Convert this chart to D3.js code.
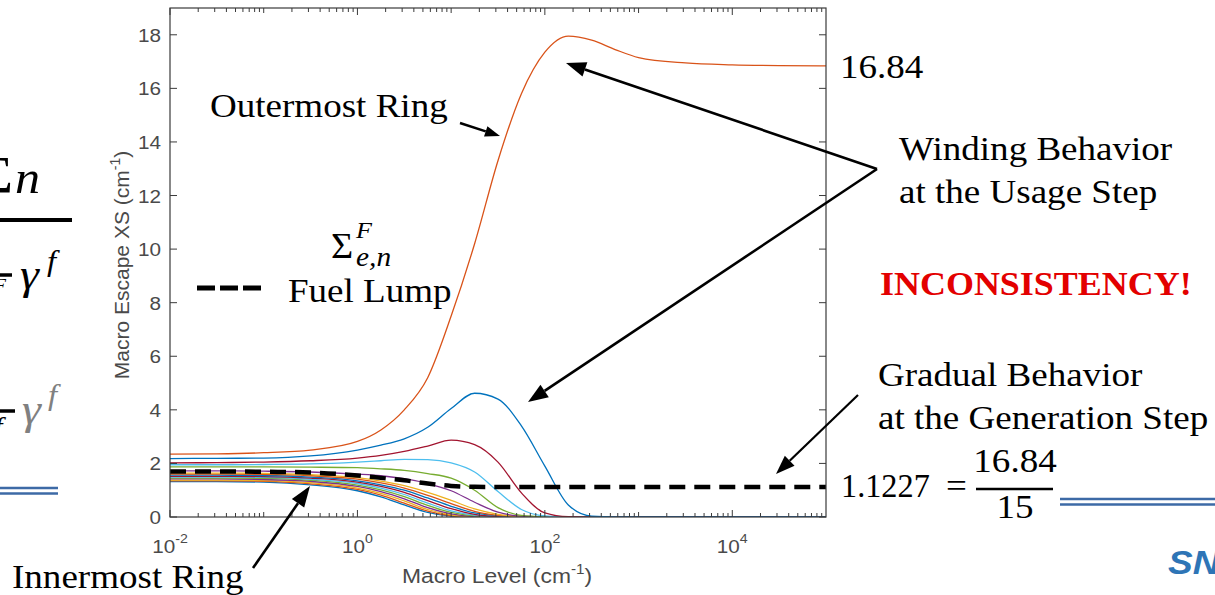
<!DOCTYPE html>
<html>
<head>
<meta charset="utf-8">
<script src="https://cdn.jsdelivr.net/npm/d3@7/dist/d3.min.js"></script>
<style>
  body { margin: 0; background: #fff; }
  svg { display: block; }
  .tick-label { font-family: "Liberation Sans", Arial, sans-serif; fill: #4a4a4a; }
  .note { font-family: "Liberation Serif", "Times New Roman", serif; fill: #000; }
</style>
</head>
<body>
<script>
// Data // --------------------------------------------------------------------
// macro level samples (cm^-1), log spaced
var macroLevel = [0.01, 0.0316, 0.1, 0.316, 1, 1.78, 3.16, 5.62, 10, 17.8, 31.6,
                  56.2, 100, 178, 316, 562, 1000, 3162, 10000, 31623, 100000];

// macro escape XS per ring, innermost (ring01) to outermost (ring16)
var ring01 = [1.32,1.32,1.30,1.20,0.98,0.75,0.45,0.17,0.03,0,0,0,0,0,0,0,0,0,0,0,0];
var ring02 = [1.35,1.35,1.33,1.24,1.03,0.82,0.52,0.22,0.05,0.005,0,0,0,0,0,0,0,0,0,0,0];
var ring03 = [1.38,1.38,1.36,1.28,1.08,0.88,0.60,0.28,0.08,0.01,0,0,0,0,0,0,0,0,0,0,0];
var ring04 = [1.42,1.42,1.40,1.33,1.14,0.95,0.68,0.35,0.12,0.02,0,0,0,0,0,0,0,0,0,0,0];
var ring05 = [1.45,1.45,1.44,1.37,1.19,1.01,0.76,0.43,0.17,0.04,0.005,0,0,0,0,0,0,0,0,0,0];
var ring06 = [1.49,1.49,1.48,1.41,1.25,1.08,0.84,0.52,0.23,0.07,0.01,0,0,0,0,0,0,0,0,0,0];
var ring07 = [1.52,1.52,1.51,1.45,1.30,1.14,0.92,0.61,0.31,0.10,0.02,0,0,0,0,0,0,0,0,0,0];
var ring08 = [1.56,1.56,1.55,1.49,1.35,1.20,1.00,0.71,0.40,0.15,0.04,0.005,0,0,0,0,0,0,0,0,0];
var ring09 = [1.60,1.60,1.59,1.54,1.41,1.27,1.08,0.81,0.50,0.21,0.06,0.01,0,0,0,0,0,0,0,0,0];
var ring10 = [1.64,1.64,1.63,1.58,1.47,1.34,1.17,0.92,0.62,0.30,0.10,0.02,0,0,0,0,0,0,0,0,0];
var ring11 = [1.72,1.72,1.71,1.68,1.60,1.54,1.43,1.25,0.98,0.55,0.18,0.03,0,0,0,0,0,0,0,0,0];
var ring12 = [1.87,1.87,1.87,1.86,1.84,1.80,1.74,1.62,1.45,1.00,0.35,0.06,0.01,0,0,0,0,0,0,0,0];
var ring13 = [1.95,1.95,1.96,1.98,2.05,2.10,2.15,2.14,2.02,1.68,0.95,0.28,0.04,0,0,0,0,0,0,0,0];
var ring14 = [2.02,2.03,2.05,2.10,2.20,2.30,2.45,2.65,2.87,2.70,2.05,0.90,0.15,0.01,0,0,0,0,0,0,0];
var ring15 = [2.18,2.19,2.20,2.28,2.50,2.68,2.92,3.35,4.05,4.62,4.40,3.40,1.90,0.45,0.03,0,0,0,0,0,0];
var ring16 = [2.35,2.36,2.40,2.50,2.82,3.25,4.00,5.20,7.50,10.2,13.3,15.8,17.35,17.95,17.8,17.45,17.15,16.95,16.88,16.85,16.84];

// fuel lump (dashed)
var fuelLump = [1.70,1.70,1.69,1.66,1.55,1.46,1.37,1.25,1.16,1.125,1.1227,1.1227,1.1227,1.1227,
                1.1227,1.1227,1.1227,1.1227,1.1227,1.1227,1.1227];

var rings = [ring01, ring02, ring03, ring04, ring05, ring06, ring07, ring08,
             ring09, ring10, ring11, ring12, ring13, ring14, ring15, ring16];

// tick labels
var yTicks = [0, 2, 4, 6, 8, 10, 12, 14, 16, 18];
var xTickExps = [-2, 0, 2, 4];

// matlab default colour order
var colorOrder = ["#0072BD", "#D95319", "#EDB120", "#7E2F8E", "#77AC30", "#4DBEEE", "#A2142F"];

// Key Functions and Variables // ----------------------------------------------
var W = 1215, H = 595;
var plot = {left: 170, right: 826, top: 8, bottom: 517};
var sx = 1.09; // the picture is a bit wider than tall, stretch texts to match

var x = d3.scaleLog().domain([1e-2, 1e5]).range([plot.left, plot.right]),
    y = d3.scaleLinear().domain([0, 19]).range([plot.bottom, plot.top]);

var svg = d3.select("body")
            .append("svg")
            .attr("width", W)
            .attr("height", H);

// text helper: places text at (px, py) with the horizontal stretch
function note(px, py, str, size, opts) {
    opts = opts || {};
    return svg.append("text")
              .attr("class", opts.cls || "note")
              .attr("transform", "translate(" + px + "," + py + ") scale(" + (opts.sx || sx) + ",1)")
              .attr("text-anchor", opts.anchor || "start")
              .style("font-size", size + "px")
              .style("font-style", opts.italic ? "italic" : null)
              .style("font-weight", opts.bold ? "bold" : null)
              .style("fill", opts.fill || null)
              .text(str);
}

// arrow with a filled head at (x2, y2)
function arrow(x1, y1, x2, y2, len, wid, sw) {
    var a = Math.atan2(y2 - y1, x2 - x1),
        bx = x2 - len * Math.cos(a), by = y2 - len * Math.sin(a),
        nx = -Math.sin(a) * wid / 2, ny = Math.cos(a) * wid / 2;
    svg.append("line")
       .attr("x1", x1).attr("y1", y1).attr("x2", bx).attr("y2", by)
       .attr("stroke", "#000").attr("stroke-width", sw || 2.6);
    svg.append("path")
       .attr("d", "M" + x2 + "," + y2 + "L" + (bx + nx) + "," + (by + ny) + "L" + (bx - nx) + "," + (by - ny) + "Z")
       .attr("fill", "#000");
}

// Plot lines // ---------------------------------------------------------------
svg.append("clipPath").attr("id", "clip")
   .append("rect")
   .attr("x", plot.left).attr("y", plot.top - 2)
   .attr("width", plot.right - plot.left).attr("height", plot.bottom - plot.top + 2);

var valueLine = d3.line()
                  .x(function(d, i){ return x(macroLevel[i]); })
                  .y(function(d){ return y(d); })
                  .curve(d3.curveMonotoneX);

var lines = svg.append("g").attr("clip-path", "url(#clip)");

rings.forEach(function(r, i) {
    lines.append("path")
         .datum(r)
         .attr("d", valueLine)
         .attr("fill", "none")
         .attr("stroke", colorOrder[i % 7])
         .attr("stroke-width", 1.3);
});

lines.append("path")
     .datum(fuelLump)
     .attr("d", valueLine)
     .attr("fill", "none")
     .attr("stroke", "#000")
     .attr("stroke-width", 4.5)
     .attr("stroke-dasharray", "16,9");

// Axes box and ticks // -------------------------------------------------------
var axisColor = "#3a3a3a";
svg.append("rect")
   .attr("x", plot.left).attr("y", plot.top)
   .attr("width", plot.right - plot.left).attr("height", plot.bottom - plot.top)
   .attr("fill", "none").attr("stroke", axisColor).attr("stroke-width", 1.2);

// y ticks (left and right, pointing in)
yTicks.forEach(function(t) {
    var ty = y(t);
    svg.append("line").attr("x1", plot.left).attr("x2", plot.left + 7)
       .attr("y1", ty).attr("y2", ty).attr("stroke", axisColor);
    svg.append("line").attr("x1", plot.right).attr("x2", plot.right - 7)
       .attr("y1", ty).attr("y2", ty).attr("stroke", axisColor);
    note(161, ty + 7, String(t), 19, {cls: "tick-label", anchor: "end"});
});

// x ticks: decades and minor 2..9 (top and bottom)
for (var e = -2; e < 5; e++) {
    for (var m = 1; m < 10; m++) {
        var v = m * Math.pow(10, e), tx = x(v);
        var len = (m === 1) ? (e % 2 === 0 ? 7 : 5) : 4;
        svg.append("line").attr("x1", tx).attr("x2", tx)
           .attr("y1", plot.bottom).attr("y2", plot.bottom - len).attr("stroke", axisColor);
        svg.append("line").attr("x1", tx).attr("x2", tx)
           .attr("y1", plot.top).attr("y2", plot.top + len).attr("stroke", axisColor);
    }
}

xTickExps.forEach(function(p) {
    var t = note(x(Math.pow(10, p)), 553, "", 19, {cls: "tick-label", anchor: "middle"});
    t.append("tspan").text("10");
    t.append("tspan").attr("dy", -10).style("font-size", "13px").text(String(p));
});

// axis labels
var xl = note(497, 583, "Macro Level (cm", 21, {cls: "tick-label", anchor: "middle"});
xl.append("tspan").attr("dy", -9).style("font-size", "14px").text("-1");
xl.append("tspan").attr("dy", 9).text(")");

var yl = svg.append("text")
            .attr("class", "tick-label")
            .attr("transform", "translate(129,265) rotate(-90)")
            .attr("text-anchor", "middle")
            .style("font-size", "21px")
            .text("Macro Escape XS (cm");
yl.append("tspan").attr("dy", -9).style("font-size", "14px").text("-1");
yl.append("tspan").attr("dy", 9).text(")");

// Annotations // --------------------------------------------------------------
var fs = 34;
note(210, 117, "Outermost Ring", fs);
arrow(460, 123, 500, 136, 15, 11, 2.4);

// sigma symbol
note(331, 258, "\u03A3", 35);
note(356, 238, "F", 24, {italic: true});
note(356, 266, "e,n", 27, {italic: true});

// fuel lump legend
svg.append("line")
   .attr("x1", 197).attr("x2", 262).attr("y1", 288).attr("y2", 288)
   .attr("stroke", "#000").attr("stroke-width", 5).attr("stroke-dasharray", "18,5");
note(288, 302, "Fuel Lump", fs);

note(840, 78, "16.84", fs);

note(899, 160, "Winding Behavior", fs);
note(899, 203, "at the Usage Step", fs);
arrow(877, 169, 566, 63, 20, 15);
arrow(877, 169, 528, 402, 20, 15);

note(880, 295, "INCONSISTENCY!", 33, {bold: true, fill: "#e30000"});

note(878, 386, "Gradual Behavior", fs);
note(878, 429, "at the Generation Step", fs);
arrow(858, 395, 776, 474, 19, 14, 2.2);

note(12, 588, "Innermost Ring", fs);
arrow(253, 568, 310, 486, 21, 15);

// 1.1227 = 16.84 / 15
note(841, 497, "1.1227", fs, {sx: 0.95});
note(946, 497, "=", fs);
note(1015, 472, "16.84", fs, {anchor: "middle"});
svg.append("line").attr("x1", 976).attr("x2", 1053).attr("y1", 489).attr("y2", 489)
   .attr("stroke", "#000").attr("stroke-width", 2.5);
note(1015, 518, "15", fs, {anchor: "middle"});

// slide decorations (double blue rules, logo fragment, formula fragments)
[[0, 58, 488, 493.5], [1060, 1215, 499, 504.5]].forEach(function(r) {
    [r[2], r[3]].forEach(function(yy) {
        svg.append("line").attr("x1", r[0]).attr("x2", r[1]).attr("y1", yy).attr("y2", yy)
           .attr("stroke", "#3d6aa6").attr("stroke-width", 2.6);
    });
});
note(1168, 574, "SN", 34, {cls: "tick-label", bold: true, italic: true, fill: "#2e75b6"});

note(-20, 193, "\u03A3", 52);
note(15, 193, "n", 46, {italic: true});
svg.append("line").attr("x1", 0).attr("x2", 72).attr("y1", 220).attr("y2", 220)
   .attr("stroke", "#000").attr("stroke-width", 4);
svg.append("line").attr("x1", 0).attr("x2", 12).attr("y1", 275).attr("y2", 275)
   .attr("stroke", "#000").attr("stroke-width", 3.5);
note(-6, 292, "F", 18, {italic: true});
note(20, 289, "\u03B3", 44, {italic: true});
note(47, 271, "f", 30, {italic: true});
svg.append("line").attr("x1", 0).attr("x2", 15).attr("y1", 411).attr("y2", 411)
   .attr("stroke", "#000").attr("stroke-width", 3.5);
note(-6, 436, "f", 28, {italic: true});
note(22, 424, "\u03B3", 44, {italic: true, fill: "#808080"});
note(48, 405, "f", 30, {italic: true, fill: "#808080"});
</script>
</body>
</html>
